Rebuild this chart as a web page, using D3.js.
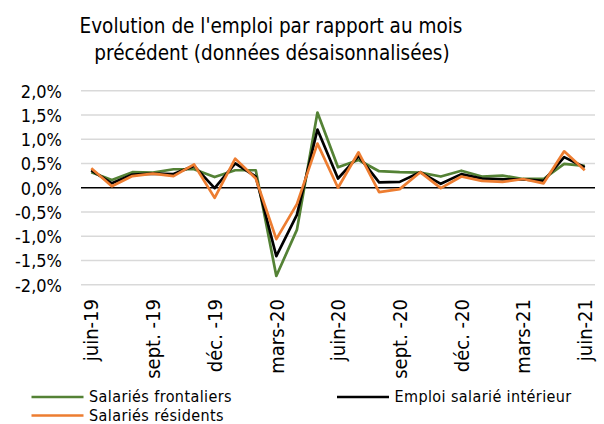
<!DOCTYPE html>
<meta charset="utf-8">
<style>
body { margin: 0; background: #fff; }
text { font-family: "DejaVu Sans Condensed", "DejaVu Sans", sans-serif; font-stretch: condensed; fill: #000; }
.grid line { stroke: #d9d9d9; stroke-width: 1.5; }
.series { fill: none; stroke-width: 2.7; stroke-linejoin: round; }
</style>
<svg width="604" height="424"></svg>
<script src="https://d3js.org/d3.v7.min.js"></script>
<script>
var months = ["juin-19","juil. -19","août-19","sept. -19","oct. -19","nov. -19","déc. -19",
  "janv. -20","févr. -20","mars-20","avr. -20","mai-20","juin-20","juil. -20","août-20",
  "sept. -20","oct. -20","nov. -20","déc. -20","janv. -21","févr. -21","mars-21","avr. -21",
  "mai-21","juin-21"];
var tickLabels = ["juin-19","sept. -19","déc. -19","mars-20","juin-20","sept. -20","déc. -20","mars-21","juin-21"];
var yTicks = [-0.02,-0.015,-0.01,-0.005,0,0.005,0.01,0.015,0.02];

var frontaliers = [0.32,0.16,0.32,0.31,0.38,0.38,0.22,0.36,0.36,-1.82,-0.87,1.55,0.42,0.57,0.34,0.32,0.31,0.23,0.35,0.23,0.25,0.18,0.18,0.49,0.45];
var interieur   = [0.36,0.09,0.27,0.29,0.28,0.45,-0.01,0.50,0.23,-1.41,-0.56,1.20,0.19,0.65,0.11,0.12,0.32,0.08,0.28,0.19,0.17,0.17,0.14,0.63,0.42];
var residents   = [0.40,0.03,0.24,0.29,0.24,0.48,-0.21,0.60,0.19,-1.06,-0.34,0.91,0.00,0.73,-0.09,-0.03,0.32,-0.01,0.23,0.14,0.12,0.18,0.09,0.75,0.36];

var series = [
  {name: "Salariés frontaliers", values: frontaliers, color: "#548235"},
  {name: "Emploi salarié intérieur", values: interieur, color: "#000000"},
  {name: "Salariés résidents", values: residents, color: "#ED7D31"}
];

var svg = d3.select("svg");
var margin = {left: 81, right: 9, top: 90.7, bottom: 139.3};
var W = 604, H = 424;

var x = d3.scaleBand().domain(months).range([margin.left, W - margin.right]);
var y = d3.scaleLinear().domain([-0.02, 0.02]).range([H - margin.bottom, margin.top]);
var fmt = function(v) {
  var s = (Math.abs(v) * 100).toFixed(1).replace(".", ",") + "%";
  return (v < 0 ? "-" : "") + s;
};

// title
var title = svg.append("text").attr("text-anchor", "middle").style("font-size", "20.5px");
title.append("tspan").attr("x", 271).attr("y", 33).text("Evolution de l'emploi par rapport au mois");
title.append("tspan").attr("x", 272).attr("y", 60).text("précédent (données désaisonnalisées)");

// gridlines
svg.append("g").attr("class", "grid")
  .selectAll("line").data(yTicks.filter(function(d) { return d !== 0; })).enter().append("line")
  .attr("x1", margin.left).attr("x2", W - margin.right)
  .attr("y1", function(d) { return y(d); }).attr("y2", function(d) { return y(d); });

// y axis labels
svg.append("g")
  .attr("transform", "translate(" + 62 + ",0)")
  .call(d3.axisLeft(y).tickValues(yTicks).tickFormat(fmt).tickSize(0).tickPadding(0))
  .call(function(g) { g.select(".domain").remove(); })
  .selectAll("text").style("font-size", "18px").attr("dy", "0.36em");

// zero line
svg.append("line")
  .attr("x1", margin.left).attr("x2", W - margin.right)
  .attr("y1", y(0)).attr("y2", y(0))
  .attr("stroke", "#000").attr("stroke-width", 1.5);

// x axis labels
var xa = svg.append("g")
  .attr("transform", "translate(0," + 299 + ")")
  .call(d3.axisBottom(x).tickValues(tickLabels).tickSize(0));
xa.select(".domain").remove();
xa.selectAll("text")
  .style("font-size", "20px")
  .attr("text-anchor", "end")
  .attr("transform", "rotate(-90)")
  .attr("x", 0).attr("y", 0).attr("dx", 0).attr("dy", "0.36em");

// lines
var line = d3.line()
  .x(function(d, i) { return x(months[i]) + x.bandwidth() / 2; })
  .y(function(d) { return y(d / 100); });

svg.selectAll(".series").data(series).enter().append("path")
  .attr("class", "series")
  .attr("stroke", function(d) { return d.color; })
  .attr("d", function(d) { return line(d.values); });

// legend
var legend = [
  {s: series[0], x: 31.5, y: 397},
  {s: series[1], x: 337, y: 397},
  {s: series[2], x: 31.5, y: 415.5}
];
var lg = svg.selectAll(".leg").data(legend).enter().append("g")
  .attr("transform", function(d) { return "translate(" + d.x + "," + d.y + ")"; });
lg.append("line").attr("x1", 0).attr("x2", 52).attr("y1", 0).attr("y2", 0)
  .attr("stroke", function(d) { return d.s.color; }).attr("stroke-width", 2.7);
lg.append("text").attr("x", 57.5).attr("dy", "0.34em")
  .style("font-size", "16px").style("letter-spacing", "0.4px")
  .text(function(d) { return d.s.name; });
</script>
